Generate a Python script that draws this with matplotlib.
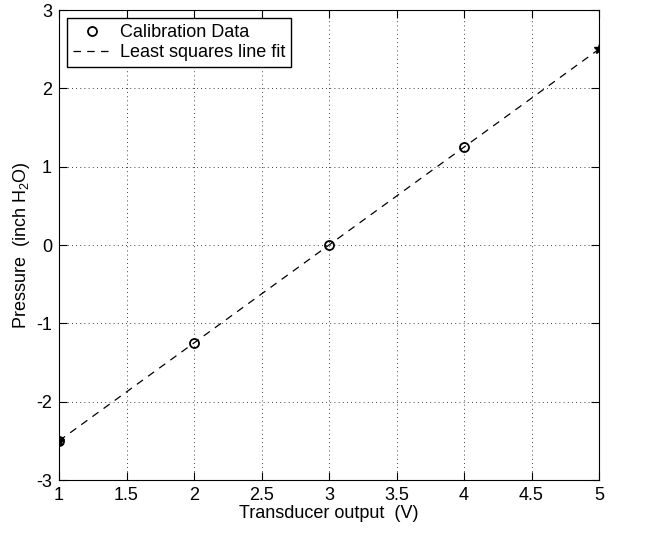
import matplotlib
matplotlib.use("Agg")
import matplotlib.pyplot as plt

plt.rcParams['font.family'] = ['Liberation Sans', 'DejaVu Sans']
plt.rcParams['mathtext.fontset'] = 'custom'
plt.rcParams['mathtext.rm'] = 'Liberation Sans'
plt.rcParams['mathtext.it'] = 'Liberation Sans'

# calibration data
volts = [1, 2, 3, 4]
pressure = [-2.5, -1.25, 0.0, 1.25]

# least squares line fit (end points)
fit_x = [1, 5]
fit_y = [-2.5, 2.5]

x_ticks = [1, 1.5, 2, 2.5, 3, 3.5, 4, 4.5, 5]
y_ticks = [-3, -2, -1, 0, 1, 2, 3]

fig = plt.figure(figsize=(6.61, 5.35), dpi=100)
ax = fig.add_axes([0.0893, 0.1028, 0.8170, 0.8785])

ax.plot(volts, pressure, 'o', mfc='none', mec='black', ms=6.5, mew=1.3,
        label='Calibration Data')
ax.plot(fit_x, fit_y, '--', color='black', lw=0.9, dashes=(6, 5),
        label='Least squares line fit')
ax.plot(fit_x, fit_y, '*', color='black', ms=7, lw=0)

ax.set_xlim(1, 5)
ax.set_ylim(-3, 3)
ax.set_xticks(x_ticks)
ax.set_xticklabels(['1', '1.5', '2', '2.5', '3', '3.5', '4', '4.5', '5'])
ax.set_yticks(y_ticks)
ax.set_yticklabels([str(v) for v in y_ticks])
ax.tick_params(direction='in', top=True, right=True, length=6, labelsize=13,
               width=0.8, pad=5)
ax.grid(True, color='black', linestyle=(0, (1, 4)), lw=0.6)
for s in ax.spines.values():
    s.set_linewidth(0.8)

ax.set_xlabel('Transducer output  (V)', fontsize=13, labelpad=1)
ax.set_ylabel('Pressure  (inch H$_2$O)', fontsize=13, labelpad=3)

leg = ax.legend(loc='upper left', fontsize=13, frameon=True, fancybox=False,
                edgecolor='black', framealpha=1, borderpad=0.35,
                handlelength=2.0, labelspacing=0.15, borderaxespad=0.45,
                handletextpad=0.55)
leg.get_frame().set_linewidth(1.0)

fig.savefig('out.png', dpi=100)
